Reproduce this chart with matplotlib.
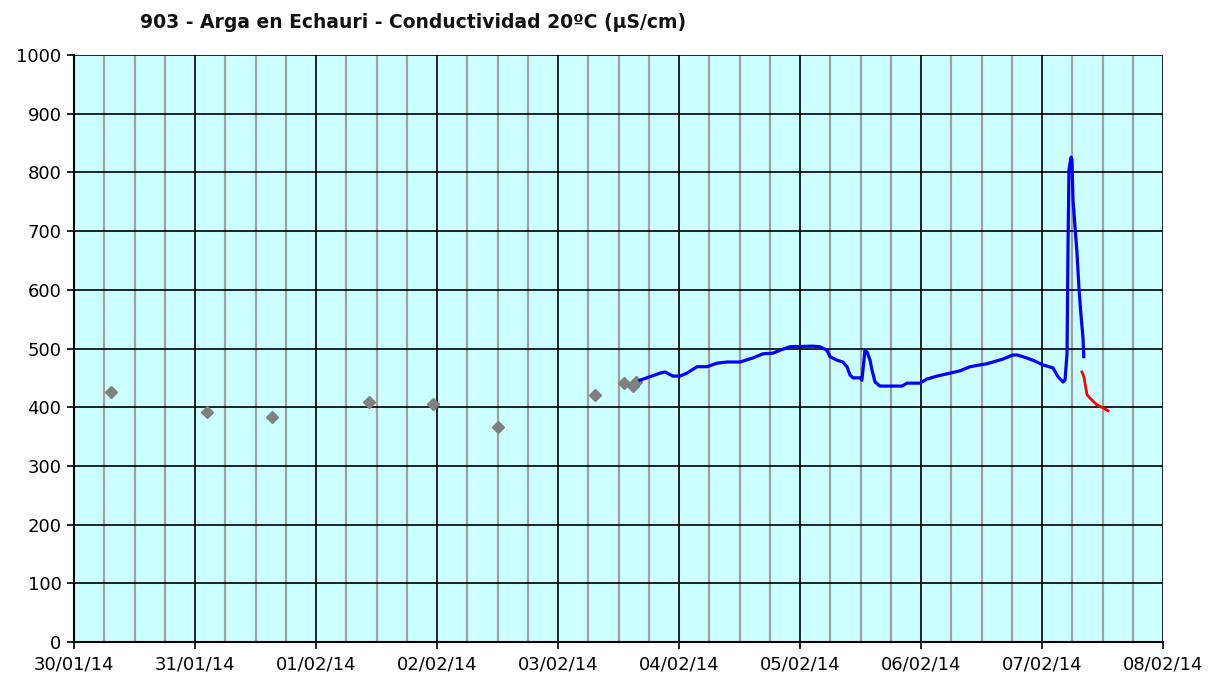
import matplotlib
matplotlib.use("Agg")
import matplotlib.pyplot as plt
import matplotlib.dates as mdates
from matplotlib.ticker import MultipleLocator
import pandas as pd

title = "903 - Arga en Echauri - Conductividad 20ºC (µS/cm)"

gray_times = ["2014-01-30 07:20", "2014-01-31 02:22", "2014-01-31 15:16", "2014-02-01 10:31",
              "2014-02-01 23:13", "2014-02-02 12:06", "2014-02-03 07:20", "2014-02-03 13:05",
              "2014-02-03 14:53", "2014-02-03 15:29"]
gray_values = [426, 392, 383, 409, 405, 366, 421, 441, 436, 443]

blue_times = ["2014-02-03 16:16", "2014-02-03 20:14", "2014-02-03 21:13", "2014-02-03 22:48",
              "2014-02-04 00:12", "2014-02-04 01:35", "2014-02-04 03:35", "2014-02-04 05:33",
              "2014-02-04 07:32", "2014-02-04 09:32", "2014-02-04 12:06", "2014-02-04 14:41",
              "2014-02-04 16:39", "2014-02-04 18:39", "2014-02-04 20:02", "2014-02-04 22:00",
              "2014-02-05 02:34", "2014-02-05 03:58", "2014-02-05 05:21", "2014-02-05 05:57",
              "2014-02-05 07:21", "2014-02-05 08:31", "2014-02-05 09:19", "2014-02-05 09:55",
              "2014-02-05 10:31", "2014-02-05 11:54", "2014-02-05 12:17", "2014-02-05 12:53",
              "2014-02-05 13:18", "2014-02-05 13:54", "2014-02-05 14:17", "2014-02-05 14:53",
              "2014-02-05 15:52", "2014-02-05 20:14", "2014-02-05 21:13", "2014-02-05 23:48",
              "2014-02-06 01:12", "2014-02-06 03:10", "2014-02-06 05:46", "2014-02-06 07:44",
              "2014-02-06 09:43", "2014-02-06 11:43", "2014-02-06 13:05", "2014-02-06 15:04",
              "2014-02-06 16:16", "2014-02-06 18:14", "2014-02-06 19:02", "2014-02-06 20:14",
              "2014-02-06 22:13", "2014-02-07 00:12", "2014-02-07 02:11", "2014-02-07 03:10",
              "2014-02-07 04:11", "2014-02-07 04:34", "2014-02-07 04:58", "2014-02-07 05:10",
              "2014-02-07 05:21", "2014-02-07 05:46", "2014-02-07 05:57", "2014-02-07 06:09",
              "2014-02-07 06:33", "2014-02-07 06:56", "2014-02-07 07:21", "2014-02-07 07:44",
              "2014-02-07 08:08", "2014-02-07 08:17"]
blue_values = [446, 458, 460, 453, 453, 458, 469, 469, 475, 477, 477, 484,
               491, 492, 497, 503, 504, 503, 497, 486, 480, 477, 469, 455,
               450, 450, 446, 497, 494, 480, 463, 443, 436, 436, 441, 441,
               448, 453, 458, 462, 469, 472, 474, 479, 482, 489, 489, 486,
               480, 472, 467, 452, 443, 446, 492, 680, 804, 826, 821, 753,
               707, 664, 600, 557, 518, 486]

red_times = ["2014-02-07 07:56", "2014-02-07 08:20", "2014-02-07 08:56", "2014-02-07 09:55",
             "2014-02-07 10:55", "2014-02-07 12:06", "2014-02-07 13:05"]
red_values = [460, 451, 421, 412, 404, 399, 394]

x_start, x_end = "2014-01-30", "2014-02-08"

fig = plt.figure(figsize=(12.09, 6.77), dpi=100)
ax = fig.add_axes([74/1209, 1-642/677, (1163-74)/1209, (642-55)/677])
ax.set_facecolor("#CCFFFF")

ax.plot(pd.to_datetime(gray_times), gray_values, linestyle="none", marker="D",
        markersize=6.5, color="#808080", zorder=3)
ax.plot(pd.to_datetime(blue_times), blue_values, color="#0000FF", linewidth=2.3, zorder=4)
ax.plot(pd.to_datetime(red_times), red_values, color="#FF0000", linewidth=2.0, zorder=4)

ax.set_xlim(pd.Timestamp(x_start), pd.Timestamp(x_end))
ax.set_ylim(0, 1000)
ax.xaxis.set_major_locator(mdates.DayLocator())
ax.xaxis.set_major_formatter(mdates.DateFormatter("%d/%m/%y"))
ax.xaxis.set_minor_locator(mdates.HourLocator(byhour=[6, 12, 18]))
ax.yaxis.set_major_locator(MultipleLocator(100))

ax.grid(which="minor", axis="x", color="#A0A0A0", linewidth=1.6, zorder=1)
ax.grid(which="major", axis="x", color="#000000", linewidth=1.2, zorder=2)
ax.grid(which="major", axis="y", color="#000000", linewidth=1.2, zorder=2)
ax.set_axisbelow(True)

for s in ["top", "right"]:
    ax.spines[s].set_visible(False)
ax.spines["left"].set_linewidth(1.5)
ax.spines["bottom"].set_linewidth(1.5)
ax.tick_params(axis="both", which="major", direction="out", length=5, width=1.2,
               labelsize=13, colors="black")
ax.tick_params(axis="x", which="minor", length=0)
ax.tick_params(axis="x", pad=5)
ax.tick_params(axis="y", pad=4)

fig.text(140/1209, 1-22/677, title, fontsize=13.5, fontweight="bold",
         ha="left", va="center", color="#111111")

fig.savefig("out.png", dpi=100)
